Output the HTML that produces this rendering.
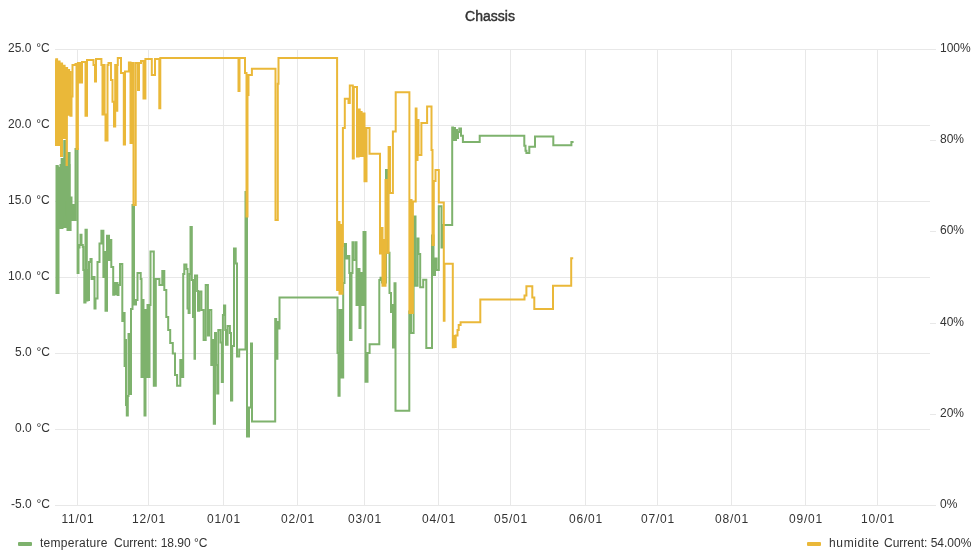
<!DOCTYPE html>
<html><head><meta charset="utf-8"><style>
html,body{margin:0;padding:0;background:#fff;width:980px;height:560px;overflow:hidden}
body{font-family:"Liberation Sans",sans-serif;color:#333;position:relative}
.t,.title,.leg{will-change:transform}
.t{position:absolute;white-space:nowrap;font-size:12px;line-height:14px}
.title{position:absolute;left:0;width:980px;top:8px;text-align:center;font-size:14px;font-weight:normal;color:#333;line-height:16px;-webkit-text-stroke:0.45px #333}
.yl{right:930px;text-align:right;word-spacing:1.5px}
.xl{width:60px;margin-left:-29.6px;text-align:center;letter-spacing:0.8px}
svg{position:absolute;left:0;top:0}
.leg{position:absolute;font-size:12px;line-height:14px;white-space:nowrap;color:#333}
.sw{position:absolute;width:14px;height:4px;border-radius:1px}
</style></head><body>
<div class="title">Chassis</div>
<svg width="980" height="560" viewBox="0 0 980 560">
<g stroke="#e8e8e8" stroke-width="1" fill="none" shape-rendering="crispEdges">
<line x1="55.0" y1="49.5" x2="930.0" y2="49.5"/>
<line x1="55.0" y1="125.5" x2="930.0" y2="125.5"/>
<line x1="55.0" y1="201.5" x2="930.0" y2="201.5"/>
<line x1="55.0" y1="277.5" x2="930.0" y2="277.5"/>
<line x1="55.0" y1="353.5" x2="930.0" y2="353.5"/>
<line x1="55.0" y1="429.5" x2="930.0" y2="429.5"/>
<line x1="55.0" y1="505.5" x2="930.0" y2="505.5"/>
<line x1="77.5" y1="49.5" x2="77.5" y2="505.5"/>
<line x1="148.5" y1="49.5" x2="148.5" y2="505.5"/>
<line x1="223.5" y1="49.5" x2="223.5" y2="505.5"/>
<line x1="297.5" y1="49.5" x2="297.5" y2="505.5"/>
<line x1="364.5" y1="49.5" x2="364.5" y2="505.5"/>
<line x1="438.5" y1="49.5" x2="438.5" y2="505.5"/>
<line x1="510.5" y1="49.5" x2="510.5" y2="505.5"/>
<line x1="585.5" y1="49.5" x2="585.5" y2="505.5"/>
<line x1="657.5" y1="49.5" x2="657.5" y2="505.5"/>
<line x1="731.5" y1="49.5" x2="731.5" y2="505.5"/>
<line x1="805.5" y1="49.5" x2="805.5" y2="505.5"/>
<line x1="877.5" y1="49.5" x2="877.5" y2="505.5"/>
</g>
<g stroke="#e8e8e8" stroke-width="1" fill="none" shape-rendering="crispEdges"><line x1="930.0" y1="505.5" x2="936.0" y2="505.5"/>
<line x1="930.0" y1="414.3" x2="936.0" y2="414.3"/>
<line x1="930.0" y1="323.1" x2="936.0" y2="323.1"/>
<line x1="930.0" y1="231.9" x2="936.0" y2="231.9"/>
<line x1="930.0" y1="140.7" x2="936.0" y2="140.7"/>
<line x1="930.0" y1="49.5" x2="936.0" y2="49.5"/></g>
<g fill="none" stroke-width="2" stroke-linejoin="miter" stroke-linecap="butt">
<polygon fill="#7eb26d" stroke="none" points="56.0,165.6 58.8,165.6 58.8,168.8 60.6,168.8 60.6,158.0 63.8,158.0 63.8,140.6 65.0,140.6 65.0,152.0 70.6,152.0 70.6,197.5 68.6,197.5 68.6,228.0 58.5,228.0 58.5,250.0 56.0,250.0"/>
<path stroke="#7eb26d" d="M55.5 293.0L56.5 293.0L56.5 166.0L57.5 166.0L57.5 293.0L58.5 293.0L58.5 168.0L59.5 168.0L59.5 228.0L60.5 228.0L60.5 165.0L61.5 165.0L61.5 228.0L62.5 228.0L62.5 160.0L63.5 160.0L63.5 215.0L64.3 215.0L64.3 141.0L65.5 141.0L65.5 200.0L66.5 200.0L66.5 160.0L67.5 160.0L67.5 230.0L68.5 230.0L68.5 165.0L69.5 165.0L69.5 230.0L70.6 230.0L70.6 197.5L71.5 197.5L71.5 220.0L72.5 220.0L72.5 205.0L73.5 205.0L73.5 220.0L75.5 220.0L75.5 149.0L77.6 149.0L77.6 273.0L78.5 273.0L78.5 247.5L79.5 247.5L79.5 245.0L80.5 245.0L80.5 234.7L81.5 234.7L81.5 245.0L82.8 245.0L82.8 247.0L83.3 247.0L83.3 270.0L84.3 270.0L84.3 302.5L85.5 302.5L85.5 229.8L86.8 229.8L86.8 300.5L87.5 300.5L87.5 270.0L88.5 270.0L88.5 300.0L89.0 300.0L89.0 262.0L90.5 262.0L90.5 259.0L91.6 259.0L91.6 279.0L93.0 279.0L93.0 277.0L94.5 277.0L94.5 308.4L95.5 308.4L95.5 298.6L97.5 298.6L97.5 262.0L99.5 262.0L99.5 243.6L101.4 243.6L101.4 230.8L103.4 230.8L103.4 277.0L104.5 277.0L104.5 252.0L105.5 252.0L105.5 310.7L107.0 310.7L107.0 235.7L109.0 235.7L109.0 260.0L110.0 260.0L110.0 240.0L111.3 240.0L111.3 267.0L113.2 267.0L113.2 294.7L114.5 294.7L114.5 283.0L115.5 283.0L115.5 294.0L116.5 294.0L116.5 283.0L117.5 283.0L117.5 295.0L118.5 295.0L118.5 285.0L120.0 285.0L120.0 264.0L122.3 264.0L122.3 321.0L123.0 321.0L123.0 313.0L124.6 313.0L124.6 366.0L125.2 366.0L125.2 340.0L126.0 340.0L126.0 405.0L126.8 405.0L126.8 415.6L127.8 415.6L127.8 396.0L128.5 396.0L128.5 334.0L130.0 334.0L130.0 394.0L131.0 394.0L131.0 309.0L132.5 309.0L132.5 205.0L134.0 205.0L134.0 304.5L136.0 304.5L136.0 300.0L137.5 300.0L137.5 273.0L140.7 273.0L140.7 279.0L141.5 279.0L141.5 377.0L142.5 377.0L142.5 300.0L143.5 300.0L143.5 370.0L144.5 370.0L144.5 415.6L145.5 415.6L145.5 310.0L146.5 310.0L146.5 377.0L147.5 377.0L147.5 305.0L148.5 305.0L148.5 377.0L149.5 377.0L149.5 305.0L150.5 305.0L150.5 251.4L153.8 251.4L153.8 385.7L155.8 385.7L155.8 279.0L159.4 279.0L159.4 285.0L162.3 285.0L162.3 271.0L164.3 271.0L164.3 290.0L166.3 290.0L166.3 317.0L168.2 317.0L168.2 330.0L170.2 330.0L170.2 343.0L172.8 343.0L172.8 353.5L175.0 353.5L175.0 375.0L177.1 375.0L177.1 385.7L180.3 385.7L180.3 360.0L182.3 360.0L182.3 377.0L183.2 377.0L183.2 274.0L184.3 274.0L184.3 264.6L186.4 264.6L186.4 269.0L187.5 269.0L187.5 308.6L188.6 308.6L188.6 313.0L189.6 313.0L189.6 274.0L190.5 274.0L190.5 227.0L191.8 227.0L191.8 280.0L193.0 280.0L193.0 317.0L194.5 317.0L194.5 358.7L195.0 358.7L195.0 275.4L197.1 275.4L197.1 291.0L198.0 291.0L198.0 310.7L199.3 310.7L199.3 291.4L201.4 291.4L201.4 310.0L203.6 310.0L203.6 340.0L205.7 340.0L205.7 285.0L207.9 285.0L207.9 335.5L209.0 335.5L209.0 310.0L211.3 310.0L211.3 365.0L212.5 365.0L212.5 340.0L213.8 340.0L213.8 423.7L215.0 423.7L215.0 333.0L216.0 333.0L216.0 365.0L217.2 365.0L217.2 393.5L218.3 393.5L218.3 330.0L220.6 330.0L220.6 342.5L221.8 342.5L221.8 382.0L222.9 382.0L222.9 315.0L224.0 315.0L224.0 305.4L225.2 305.4L225.2 330.0L226.0 330.0L226.0 344.8L227.6 344.8L227.6 326.0L229.9 326.0L229.9 333.0L231.0 333.0L231.0 400.5L232.2 400.5L232.2 346.0L234.0 346.0L234.0 248.6L235.7 248.6L235.7 263.6L237.0 263.6L237.0 356.4L239.2 356.4L239.2 349.4L245.5 349.4L245.5 192.0L247.0 192.0L247.0 436.5L249.0 436.5L249.0 407.4L251.0 407.4L251.0 343.6L252.0 343.6L252.0 421.4L275.2 421.4L275.2 319.0L276.2 319.0L276.2 358.7L277.4 358.7L277.4 322.0L278.5 322.0L278.5 328.6L279.5 328.6L279.5 297.5L337.5 297.5L337.5 353.0L338.5 353.0L338.5 395.7L339.6 395.7L339.6 310.0L340.6 310.0L340.6 377.5L341.6 377.5L341.6 310.0L342.6 310.0L342.6 377.5L343.2 377.5L343.2 283.0L344.5 283.0L344.5 244.0L346.0 244.0L346.0 258.4L347.7 258.4L347.7 256.0L349.3 256.0L349.3 273.0L350.0 273.0L350.0 340.0L351.5 340.0L351.5 273.0L352.5 273.0L352.5 242.3L353.5 242.3L353.5 260.0L355.7 260.0L355.7 242.3L356.5 242.3L356.5 305.0L357.5 305.0L357.5 300.0L358.0 300.0L358.0 268.9L359.5 268.9L359.5 328.0L360.5 328.0L360.5 273.0L362.0 273.0L362.0 305.0L363.5 305.0L363.5 231.9L365.5 231.9L365.5 381.8L367.5 381.8L367.5 353.0L369.6 353.0L369.6 344.3L379.3 344.3L379.3 280.0L380.5 280.0L380.5 277.7L382.0 277.7L382.0 282.5L386.0 282.5L386.0 170.0L388.0 170.0L388.0 252.8L389.5 252.8L389.5 293.0L391.0 293.0L391.0 312.0L392.0 312.0L392.0 305.0L393.0 305.0L393.0 347.5L394.5 347.5L394.5 283.3L395.5 283.3L395.5 410.7L409.3 410.7L409.3 311.4L411.0 311.4L411.0 332.9L413.6 332.9L413.6 216.6L415.5 216.6L415.5 285.7L417.6 285.7L417.6 238.6L418.5 238.6L418.5 254.0L420.2 254.0L420.2 287.3L423.2 287.3L423.2 279.7L426.3 279.7L426.3 348.0L432.0 348.0L432.0 235.6L433.5 235.6L433.5 275.0L435.0 275.0L435.0 258.4L436.5 258.4L436.5 270.0L438.8 270.0L438.8 206.3L441.5 206.3L441.5 247.5L443.0 247.5L443.0 225.0L452.2 225.0L452.2 127.6L453.0 127.6L453.0 140.0L454.0 140.0L454.0 128.0L455.0 128.0L455.0 140.0L456.0 140.0L456.0 130.0L457.0 130.0L457.0 138.0L458.0 138.0L458.0 132.0L459.3 132.0L459.3 128.6L461.0 128.6L461.0 135.7L462.9 135.7L462.9 141.9L479.7 141.9L479.7 135.7L524.3 135.7L524.3 145.7L525.5 145.7L525.5 150.7L526.4 150.7L526.4 152.9L529.3 152.9L529.3 146.7L535.0 146.7L535.0 136.4L553.3 136.4L553.3 145.3L571.4 145.3L571.4 141.9L573.6 141.9L573.6 141.9"/>
<path stroke="#eab839" d="M55.5 60.0L56.2 60.0L56.2 59.3L57.1 59.3L57.1 61.4L59.6 61.4L59.6 63.6L62.1 63.6L62.1 65.7L64.6 65.7L64.6 67.9L67.1 67.9L67.1 70.0L69.1 70.0L69.1 72.0L70.4 72.0L70.4 115.7L71.5 115.7L71.5 96.4L72.5 96.4L72.5 65.0L75.5 65.0L75.5 64.0L76.5 64.0L76.5 149.0L77.9 149.0L77.9 63.0L79.0 63.0L79.0 82.5L80.0 82.5L80.0 63.0L81.0 63.0L81.0 82.5L82.0 82.5L82.0 62.0L84.3 62.0L84.3 62.0L85.5 62.0L85.5 115.7L87.0 115.7L87.0 60.0L91.8 60.0L91.8 60.0L93.5 60.0L93.5 65.0L95.0 65.0L95.0 81.4L96.0 81.4L96.0 59.0L100.4 59.0L100.4 59.0L101.4 59.0L101.4 65.0L102.5 65.0L102.5 114.6L103.5 114.6L103.5 65.0L104.6 65.0L104.6 114.6L105.5 114.6L105.5 140.4L107.5 140.4L107.5 65.0L108.5 65.0L108.5 63.0L111.0 63.0L111.0 80.0L112.5 80.0L112.5 101.8L114.0 101.8L114.0 126.4L115.2 126.4L115.2 65.0L116.3 65.0L116.3 110.7L117.3 110.7L117.3 65.0L117.8 65.0L117.8 57.9L121.0 57.9L121.0 73.0L123.8 73.0L123.8 144.6L125.0 144.6L125.0 71.4L128.9 71.4L128.9 62.5L130.5 62.5L130.5 143.0L132.0 143.0L132.0 63.0L133.5 63.0L133.5 205.0L135.7 205.0L135.7 63.0L137.0 63.0L137.0 63.0L138.0 63.0L138.0 90.0L139.0 90.0L139.0 63.0L141.0 63.0L141.0 61.0L143.5 61.0L143.5 98.6L145.4 98.6L145.4 59.0L149.6 59.0L149.6 59.0L151.8 59.0L151.8 75.0L155.0 75.0L155.0 59.0L158.2 59.0L158.2 59.0L159.3 59.0L159.3 108.2L160.3 108.2L160.3 58.0L238.0 58.0L238.0 58.0L238.5 58.0L238.5 91.0L239.5 91.0L239.5 58.0L245.0 58.0L245.0 73.0L246.5 73.0L246.5 216.4L247.5 216.4L247.5 95.0L248.5 95.0L248.5 75.0L251.9 75.0L251.9 68.8L275.5 68.8L275.5 220.0L277.8 220.0L277.8 83.8L278.5 83.8L278.5 58.0L337.1 58.0L337.1 290.0L338.5 290.0L338.5 222.0L339.5 222.0L339.5 293.8L340.5 293.8L340.5 225.0L341.5 225.0L341.5 293.8L342.5 293.8L342.5 246.0L342.9 246.0L342.9 128.0L344.8 128.0L344.8 98.7L348.5 98.7L348.5 103.0L349.8 103.0L349.8 85.5L352.8 85.5L352.8 158.6L353.8 158.6L353.8 86.9L357.0 86.9L357.0 156.6L358.7 156.6L358.7 109.5L359.7 109.5L359.7 156.0L360.6 156.0L360.6 112.0L361.6 112.0L361.6 156.0L362.6 156.0L362.6 113.4L364.5 113.4L364.5 181.2L366.5 181.2L366.5 128.1L369.5 128.1L369.5 153.7L380.0 153.7L380.0 253.6L381.4 253.6L381.4 228.0L382.5 228.0L382.5 285.7L383.5 285.7L383.5 240.0L384.7 240.0L384.7 285.7L385.5 285.7L385.5 180.0L386.5 180.0L386.5 252.8L388.6 252.8L388.6 147.0L390.0 147.0L390.0 193.0L392.9 193.0L392.9 131.4L395.7 131.4L395.7 92.3L409.4 92.3L409.4 313.0L410.5 313.0L410.5 200.0L411.5 200.0L411.5 313.0L412.9 313.0L412.9 201.4L415.7 201.4L415.7 108.6L416.5 108.6L416.5 160.0L417.5 160.0L417.5 120.0L418.5 120.0L418.5 155.0L421.4 155.0L421.4 122.9L427.1 122.9L427.1 106.6L431.5 106.6L431.5 150.0L432.5 150.0L432.5 245.0L433.8 245.0L433.8 181.0L435.5 181.0L435.5 170.0L438.8 170.0L438.8 202.5L443.8 202.5L443.8 320.7L444.5 320.7L444.5 263.8L452.8 263.8L452.8 347.2L453.8 347.2L453.8 336.0L454.8 336.0L454.8 347.0L455.7 347.0L455.7 335.5L457.5 335.5L457.5 330.0L458.7 330.0L458.7 325.0L460.6 325.0L460.6 322.3L480.3 322.3L480.3 299.5L524.5 299.5L524.5 295.6L526.4 295.6L526.4 286.3L532.3 286.3L532.3 297.5L534.3 297.5L534.3 309.0L553.0 309.0L553.0 285.8L571.2 285.8L571.2 258.3L573.2 258.3L573.2 258.3"/>
<polygon fill="#eab839" stroke="none" points="55.0,60.0 56.2,59.3 57.1,59.3 57.1,61.4 59.6,61.4 59.6,63.6 62.1,63.6 62.1,65.7 64.6,65.7 64.6,67.9 67.1,67.9 67.1,70.0 69.1,70.0 69.1,72.0 71.2,72.0 71.2,96.9 70.0,96.9 70.0,115.8 67.9,115.8 67.9,166.0 65.6,166.0 65.6,139.0 63.0,139.0 63.0,157.0 60.0,157.0 60.0,146.0 55.0,146.0"/>
</g>
</svg>
<div class="t yl" style="top:41.0px">25.0 °C</div>
<div class="t yl" style="top:117.0px">20.0 °C</div>
<div class="t yl" style="top:193.0px">15.0 °C</div>
<div class="t yl" style="top:269.0px">10.0 °C</div>
<div class="t yl" style="top:345.0px">5.0 °C</div>
<div class="t yl" style="top:421.0px">0.0 °C</div>
<div class="t yl" style="top:497.0px">-5.0 °C</div>
<div class="t" style="left:939.5px;top:41.0px">100%</div>
<div class="t" style="left:939.5px;top:132.2px">80%</div>
<div class="t" style="left:939.5px;top:223.4px">60%</div>
<div class="t" style="left:939.5px;top:314.6px">40%</div>
<div class="t" style="left:939.5px;top:405.8px">20%</div>
<div class="t" style="left:939.5px;top:497.0px">0%</div>
<div class="t xl" style="left:77.5px;top:512px">11/01</div>
<div class="t xl" style="left:148.5px;top:512px">12/01</div>
<div class="t xl" style="left:223.5px;top:512px">01/01</div>
<div class="t xl" style="left:297.5px;top:512px">02/01</div>
<div class="t xl" style="left:364.5px;top:512px">03/01</div>
<div class="t xl" style="left:438.5px;top:512px">04/01</div>
<div class="t xl" style="left:510.5px;top:512px">05/01</div>
<div class="t xl" style="left:585.5px;top:512px">06/01</div>
<div class="t xl" style="left:657.5px;top:512px">07/01</div>
<div class="t xl" style="left:731.5px;top:512px">08/01</div>
<div class="t xl" style="left:805.5px;top:512px">09/01</div>
<div class="t xl" style="left:877.5px;top:512px">10/01</div>
<div class="sw" style="left:18px;top:542px;background:#7eb26d"></div>
<div class="leg" style="left:40px;top:536px;letter-spacing:0.27px">temperature</div>
<div class="leg" style="left:114.3px;top:536px">Current: 18.90 °C</div>
<div class="sw" style="left:807px;top:542px;background:#eab839"></div>
<div class="leg" style="left:829.2px;top:536px;letter-spacing:0.65px">humidite</div>
<div class="leg" style="left:884.3px;top:536px">Current: 54.00%</div>
</body></html>
